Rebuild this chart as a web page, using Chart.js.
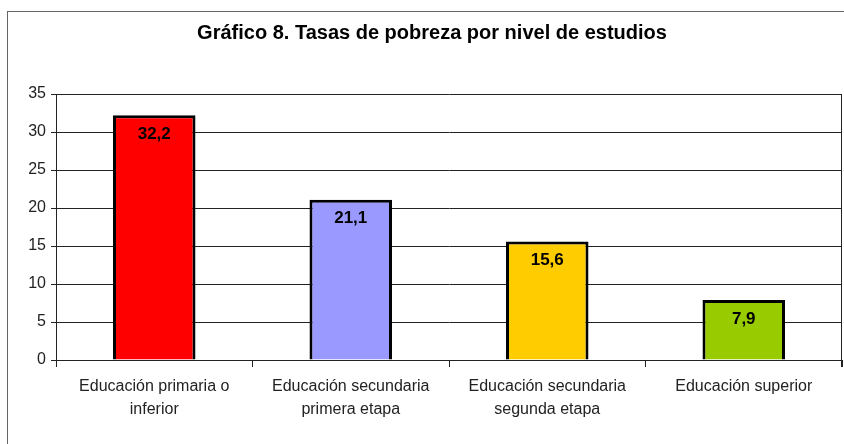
<!DOCTYPE html>
<html>
<head>
<meta charset="utf-8">
<script src="https://cdn.jsdelivr.net/npm/chart.js@4"></script>
<style>
  html, body { margin: 0; padding: 0; background: #fff; overflow: hidden; }
  #wrap { position: relative; width: 844px; height: 444px; }
  #frame { position: absolute; left: 7px; top: 11px; width: 900px; height: 500px; border: 1px solid #666; }
  canvas { position: absolute; left: 0; top: 0; }
</style>
</head>
<body>
<div id="wrap">
  <div id="frame"></div>
  <canvas id="chart" width="844" height="444"></canvas>
</div>
<script>
// datos del gráfico
const titulo = 'Gráfico 8. Tasas de pobreza por nivel de estudios';
const categorias = [
    ['Educación primaria o', 'inferior'],
    ['Educación secundaria', 'primera etapa'],
    ['Educación secundaria', 'segunda etapa'],
    ['Educación superior']
];
const tasas = [32.2, 21.1, 15.6, 7.9];
const colores = ['#FF0000', '#9999FF', '#FFCC00', '#99CC00'];
const ticksY = [0, 5, 10, 15, 20, 25, 30, 35];

const fuente = "'Liberation Sans', Arial, sans-serif";

// título, borde derecho y etiquetas de valor
const extras = {
    id: 'extras',
    afterDraw(chart) {
        const ctx = chart.ctx;
        const area = chart.chartArea;
        ctx.save();
        // título
        ctx.fillStyle = '#000';
        ctx.font = 'bold 20px ' + fuente;
        ctx.textAlign = 'center';
        ctx.textBaseline = 'middle';
        ctx.fillText(titulo, chart.width / 2 + 10, 33);
        // borde derecho del área de trazado
        ctx.strokeStyle = '#222';
        ctx.lineWidth = 1;
        ctx.beginPath();
        ctx.moveTo(area.right - 0.5, area.top);
        ctx.lineTo(area.right - 0.5, area.bottom + 7);
        ctx.stroke();
        // valores dentro de las barras
        ctx.font = 'bold 17px ' + fuente;
        const meta = chart.getDatasetMeta(0);
        meta.data.forEach(function(bar, i) {
            const txt = tasas[i].toFixed(1).replace('.', ',');
            ctx.fillText(txt, bar.x, bar.y + 19);
        });
        ctx.restore();
    }
};

new Chart(document.getElementById('chart').getContext('2d'), {
    type: 'bar',
    data: {
        labels: categorias,
        datasets: [{
            data: tasas,
            backgroundColor: colores,
            borderColor: '#000',
            borderWidth: 3,
            barPercentage: 0.42,
            categoryPercentage: 1.0
        }]
    },
    options: {
        responsive: false,
        animation: false,
        layout: { padding: { top: 94, right: 2, left: 0, bottom: 0 } },
        plugins: {
            legend: { display: false },
            tooltip: { enabled: false }
        },
        scales: {
            x: {
                afterFit: function(scale) { scale.height = 84; },
                grid: { offset: true, drawOnChartArea: false, drawTicks: true, tickLength: 7, color: '#222' },
                border: { color: '#222' },
                ticks: {
                    color: '#222',
                    padding: 8,
                    maxRotation: 0,
                    font: { family: fuente, size: 16, lineHeight: 1.45 }
                }
            },
            y: {
                min: 0,
                max: 35,
                afterFit: function(scale) { scale.width = 56; },
                afterBuildTicks: function(scale) {
                    scale.ticks = ticksY.map(function(v) { return { value: v }; });
                },
                grid: { color: '#222', tickLength: 5 },
                border: { color: '#222' },
                ticks: {
                    color: '#222',
                    padding: 5,
                    font: { family: fuente, size: 16 }
                }
            }
        }
    },
    plugins: [extras]
});
</script>
</body>
</html>
